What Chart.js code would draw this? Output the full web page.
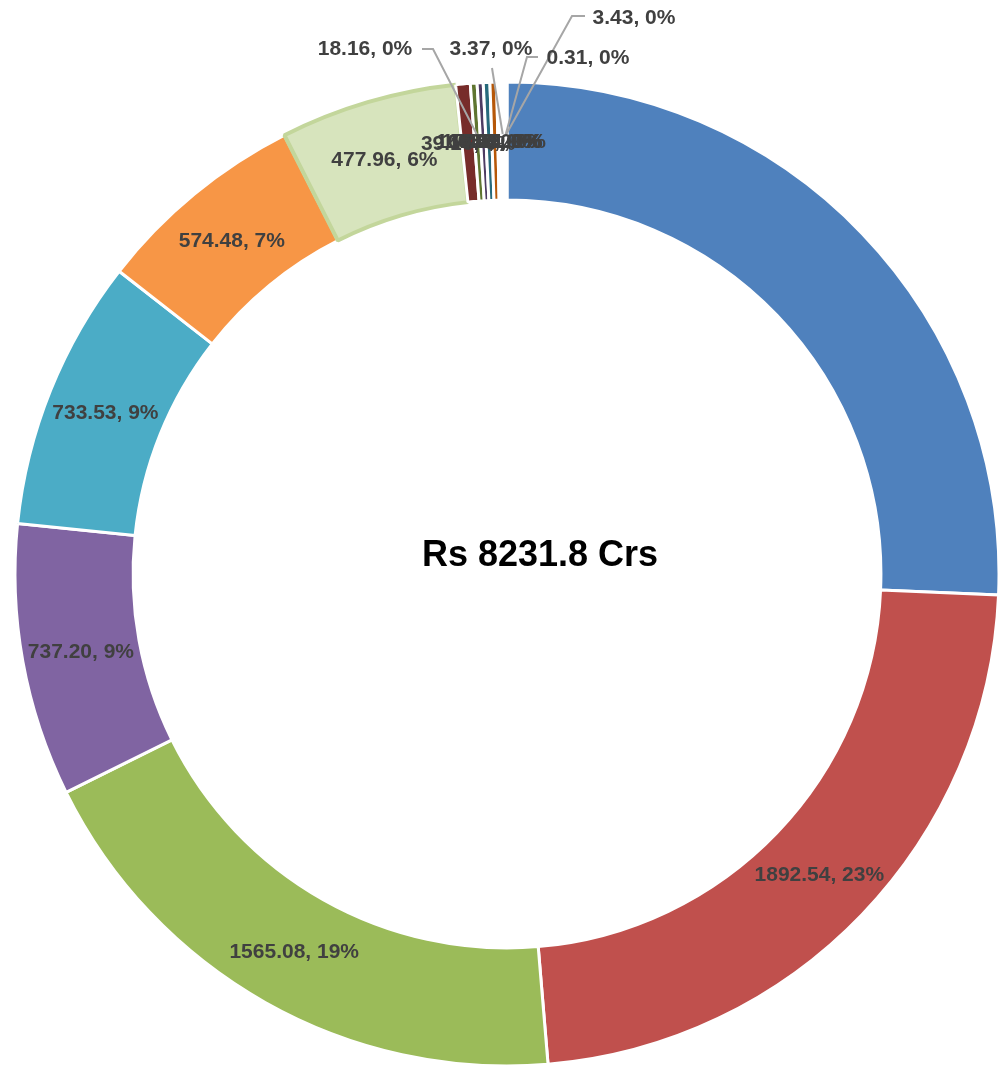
<!DOCTYPE html>
<html>
<head>
<meta charset="utf-8">
<script src="https://cdn.jsdelivr.net/npm/chart.js@4.4.0/dist/chart.umd.min.js"></script>
<style>
  html, body { margin: 0; padding: 0; background: #ffffff; }
  #wrap { width: 1004px; height: 1070px; position: relative; }
</style>
</head>
<body>
<div id="wrap"><canvas id="ring"></canvas></div>
<script>
// slice names are not shown in the picture
const categories = ['Head 1', 'Head 2', 'Head 3', 'Head 4', 'Head 5', 'Head 6', 'Head 7', 'Head 8', 'Head 9',
    'Head 10', 'Head 11', 'Head 12', 'Head 13', 'Head 14', 'Head 15', 'Head 16', 'Head 17', 'Head 18'];
const amounts = [2113.91, 1892.54, 1565.08, 737.20, 733.53, 574.48, 477.96, 39.16, 18.16,
    16.40, 17.85, 18.02, 6.84, 6.15, 3.37, 7.41, 0.31, 3.43];
const sliceColors = ['#4F81BD', '#C0504D', '#9BBB59', '#8064A2', '#4BACC6', '#F79646', '#D7E4BD', '#772C2A', '#5F7530',
    '#4D3B62', '#276A7C', '#B65708', '#729ACA', '#CD7371', '#AFC97A', '#9983B5', '#6FBDD1', '#F9AB6B'];
const centerPrefix = 'Rs ';
const centerSuffix = ' Crs';

const total = amounts.reduce((a, b) => a + b, 0);

const borderColors = sliceColors.map((c, i) => i === 6 ? '#C3D69B' : '#ffffff');
const borderWidths = sliceColors.map((c, i) => i === 6 ? 4 : 3);

// labels moved out of the ring, with leader lines
const callouts = {
    8:  { x: 365, y: 49, path: [[422, 49], [433, 49]] },
    14: { x: 491, y: 49, path: [[492, 68]] },
    16: { x: 588, y: 58, path: [[538, 57], [527, 57]] },
    17: { x: 634, y: 18, path: [[585, 16], [572, 16]] }
};

const ringLabels = {
    id: 'ringLabels',
    afterDatasetsDraw(chart) {
        const ctx = chart.ctx;
        const meta = chart.getDatasetMeta(0);
        ctx.save();

        // leader lines first
        ctx.strokeStyle = '#A6A6A6';
        ctx.lineWidth = 2;
        Object.keys(callouts).forEach(k => {
            const arc = meta.data[k];
            const c = callouts[k];
            const p = arc.getProps(['x', 'y', 'startAngle', 'endAngle', 'outerRadius']);
            const mid = (p.startAngle + p.endAngle) / 2;
            const r = p.outerRadius - 52;
            ctx.beginPath();
            ctx.moveTo(c.path[0][0], c.path[0][1]);
            for (let j = 1; j < c.path.length; j++) ctx.lineTo(c.path[j][0], c.path[j][1]);
            ctx.lineTo(p.x + Math.cos(mid) * r, p.y + Math.sin(mid) * r);
            ctx.stroke();
        });

        ctx.font = 'bold 21px "Liberation Sans", Arial, sans-serif';
        ctx.fillStyle = '#404040';
        ctx.textAlign = 'center';
        ctx.textBaseline = 'middle';
        meta.data.forEach((arc, i) => {
            if (i === 0) return; // first slice has no label
            const text = amounts[i].toFixed(2) + ', ' + Math.round(amounts[i] / total * 100) + '%';
            const c = callouts[i];
            if (c) {
                ctx.fillText(text, c.x, c.y);
            } else {
                const pos = arc.tooltipPosition();
                ctx.fillText(text, pos.x, pos.y + 1);
            }
        });

        // centre title
        const a0 = meta.data[0];
        ctx.fillStyle = '#000000';
        ctx.font = 'bold 36px "Liberation Sans", Arial, sans-serif';
        ctx.fillText(centerPrefix + total.toFixed(1) + centerSuffix, a0.x + 33, a0.y - 18);
        ctx.restore();
    }
};

new Chart(document.getElementById('ring'), {
    type: 'doughnut',
    data: {
        labels: categories,
        datasets: [{
            data: amounts,
            backgroundColor: sliceColors,
            borderColor: borderColors,
            borderWidth: borderWidths,
            hoverOffset: 0
        }]
    },
    options: {
        responsive: true,
        maintainAspectRatio: false,
        animation: false,
        cutout: '76%',
        layout: {
            padding: { left: 13, right: 3, top: 80, bottom: 2 }
        },
        plugins: {
            legend: { display: false },
            tooltip: { enabled: false }
        }
    },
    plugins: [ringLabels]
});
</script>
</body>
</html>
